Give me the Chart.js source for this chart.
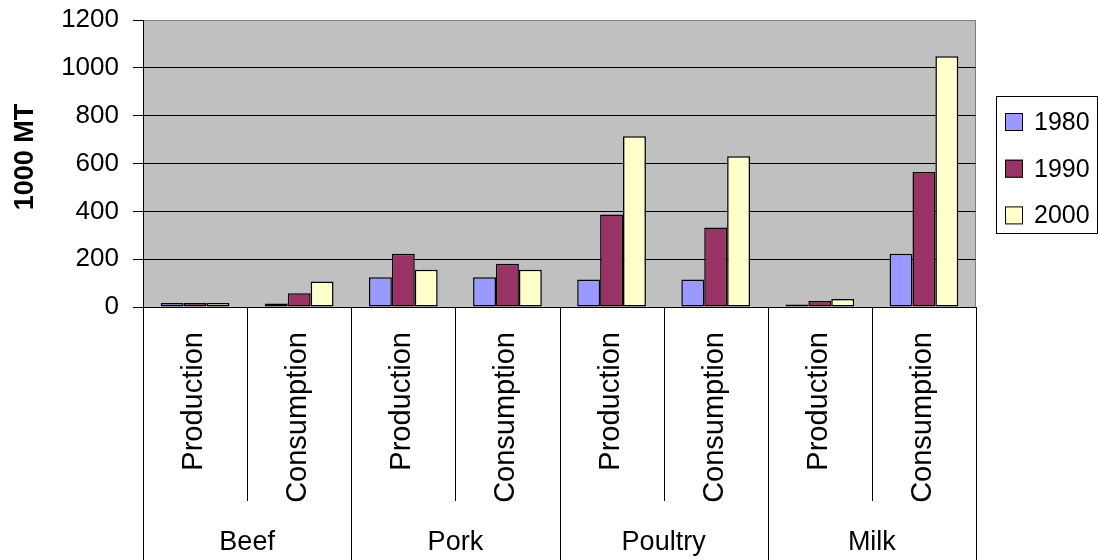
<!DOCTYPE html>
<html>
<head>
<meta charset="utf-8">
<title>Meat and milk, 1000 MT</title>
<script src="https://cdn.jsdelivr.net/npm/chart.js"></script>
<style>
  html, body { margin:0; padding:0; background:#fff; }
  #wrap { width:1098px; height:560px; position:relative; }
</style>
</head>
<body>
<div id="wrap"><canvas id="chart"></canvas></div>
<script>
// data
const groups = ['Beef', 'Pork', 'Poultry', 'Milk'];
const measures = ['Production', 'Consumption'];
const years = ['1980', '1990', '2000'];
const yearColors = ['#9999FF', '#993366', '#FFFFCC'];
const yTicks = [0, 200, 400, 600, 800, 1000, 1200];
const yTitle = '1000 MT';

const v1980 = [17, 15, 124, 124, 115, 115, 10, 223];
const v1990 = [17, 58, 223, 181, 387, 332, 25, 564];
const v2000 = [17, 107, 156, 156, 714, 630, 33, 1048];

const labels = [];
groups.forEach(g => measures.forEach(m => labels.push(m)));
const series = [v1980, v1990, v2000];

const FONT = "'Liberation Sans', Arial, sans-serif";

// grey plot area + frame
const plotBg = {
  id: 'plotBg',
  beforeDraw(chart) {
    const { ctx, chartArea: a } = chart;
    ctx.save();
    ctx.fillStyle = '#C0C0C0';
    ctx.fillRect(a.left, a.top, a.right - a.left, a.bottom - a.top);
    ctx.strokeStyle = '#808080';
    ctx.lineWidth = 1;
    ctx.beginPath();
    ctx.moveTo(a.left, a.top + 0.5);
    ctx.lineTo(a.right - 0.5, a.top + 0.5);
    ctx.lineTo(a.right - 0.5, a.bottom);
    ctx.stroke();
    ctx.restore();
  }
};

// two level category axis, y title + legend
const catAxis = {
  id: 'catAxis',
  afterDraw(chart) {
    const { ctx, chartArea: a } = chart;
    const x = chart.scales.x;
    const n = labels.length;
    const slot = (x.right - x.left) / n;
    ctx.save();
    ctx.strokeStyle = '#000';
    ctx.lineWidth = 1;
    for (let i = 0; i <= n; i++) {
      const px = Math.round(x.left + i * slot) + 0.5;
      ctx.beginPath();
      ctx.moveTo(px, a.bottom);
      ctx.lineTo(px, i % 2 === 0 ? 560 : 501);
      ctx.stroke();
    }
    ctx.fillStyle = '#000';
    ctx.font = '29px ' + FONT;
    ctx.textAlign = 'right';
    ctx.textBaseline = 'middle';
    labels.forEach((lab, i) => {
      const px = x.getPixelForValue(i);
      ctx.save();
      ctx.translate(px - 1, 332);
      ctx.rotate(-Math.PI / 2);
      ctx.fillText(lab, 0, 0);
      ctx.restore();
    });
    ctx.font = '27px ' + FONT;
    ctx.textAlign = 'center';
    groups.forEach((g, i) => {
      const px = (x.getPixelForValue(i * 2) + x.getPixelForValue(i * 2 + 1)) / 2;
      ctx.fillText(g, px, 543);
    });

    // y title
    ctx.save();
    ctx.font = 'bold 27px ' + FONT;
    ctx.translate(26, 157);
    ctx.rotate(-Math.PI / 2);
    ctx.fillText(yTitle, 0, 0);
    ctx.restore();

    // legend
    ctx.strokeRect(996.5, 96.5, 101, 137);
    ctx.font = '25px ' + FONT;
    ctx.textAlign = 'left';
    chart.data.datasets.forEach((ds, i) => {
      const cy = 122 + i * 46.7;
      ctx.fillStyle = ds.backgroundColor;
      ctx.fillRect(1005, cy - 9, 18, 18);
      ctx.strokeRect(1005.5, cy - 8.5, 17, 17);
      ctx.fillStyle = '#000';
      ctx.fillText(ds.label, 1034, cy + 1);
    });
    ctx.restore();
  }
};

new Chart(document.getElementById('chart'), {
  type: 'bar',
  data: {
    labels: labels,
    datasets: years.map((y, i) => ({
      label: y,
      data: series[i],
      backgroundColor: yearColors[i],
      borderColor: '#000',
      borderWidth: 1.5,
      borderSkipped: false,
      categoryPercentage: 0.66,
      barPercentage: 1.0
    }))
  },
  options: {
    responsive: true,
    maintainAspectRatio: false,
    animation: false,
    layout: { padding: { top: 20, right: 122, left: 0, bottom: 0 } },
    plugins: { legend: { display: false }, tooltip: { enabled: false } },
    scales: {
      x: {
        ticks: { display: false },
        grid: { display: false },
        border: { display: true, color: '#000', width: 1 },
        afterFit(scale) { scale.height = 253; }
      },
      y: {
        min: 0,
        max: 1200,
        afterBuildTicks(scale) { scale.ticks = yTicks.map(v => ({ value: v })); },
        ticks: {
          color: '#000',
          font: { family: FONT, size: 26 },
          padding: 14,
          callback: v => String(v)
        },
        grid: {
          color: c => (c.tick && c.tick.value === 1200 ? '#808080' : '#000'),
          tickLength: 10,
          tickColor: '#000',
          lineWidth: 1
        },
        border: { display: true, color: '#000', width: 1 },
        afterFit(scale) {
          scale.width = 143;
          scale.paddingTop = 0;
          scale.paddingBottom = 0;
        }
      }
    }
  },
  plugins: [plotBg, catAxis]
});
</script>
</body>
</html>
